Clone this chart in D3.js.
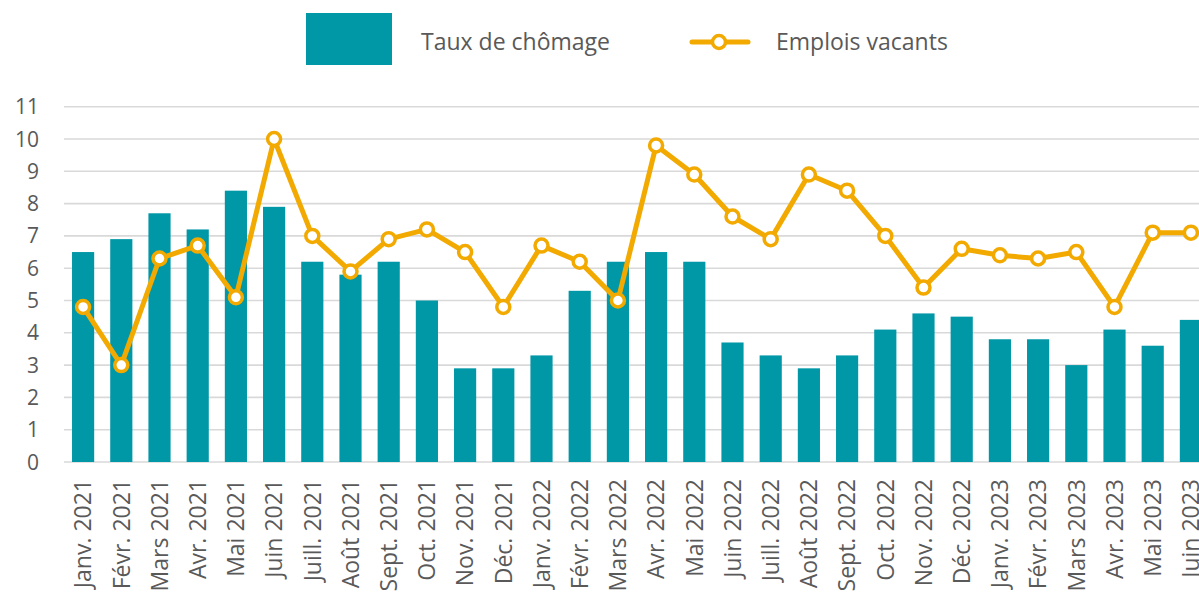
<!DOCTYPE html>
<html>
<head>
<meta charset="utf-8">
<script src="https://cdn.jsdelivr.net/npm/d3@7"></script>
<style>
  html, body { margin: 0; padding: 0; background: #fff; overflow: hidden; }
  svg { display: block; font-family: 'Open Sans', Lato, sans-serif; }
</style>
</head>
<body>
<div id="chart"></div>
<script>
const months = [
  'Janv. 2021', 'Févr. 2021', 'Mars 2021', 'Avr. 2021', 'Mai 2021', 'Juin 2021',
  'Juill. 2021', 'Août 2021', 'Sept. 2021', 'Oct. 2021', 'Nov. 2021', 'Déc. 2021',
  'Janv. 2022', 'Févr. 2022', 'Mars 2022', 'Avr. 2022', 'Mai 2022', 'Juin 2022',
  'Juill. 2022', 'Août 2022', 'Sept. 2022', 'Oct. 2022', 'Nov. 2022', 'Déc. 2022',
  'Janv. 2023', 'Févr. 2023', 'Mars 2023', 'Avr. 2023', 'Mai 2023', 'Juin 2023'
]
// taux de chômage (barres)
const chomage = [
  6.5, 6.9, 7.7, 7.2, 8.4, 7.9, 6.2, 5.8, 6.2, 5.0, 2.9, 2.9,
  3.3, 5.3, 6.2, 6.5, 6.2, 3.7, 3.3, 2.9, 3.3, 4.1, 4.6, 4.5,
  3.8, 3.8, 3.0, 4.1, 3.6, 4.4
]
// emplois vacants (ligne)
const vacants = [
  4.8, 3.0, 6.3, 6.7, 5.1, 10.0, 7.0, 5.9, 6.9, 7.2, 6.5, 4.8,
  6.7, 6.2, 5.0, 9.8, 8.9, 7.6, 6.9, 8.9, 8.4, 7.0, 5.4, 6.6,
  6.4, 6.3, 6.5, 4.8, 7.1, 7.1
]
const yTicks = d3.range(0, 12)

const width = 1199, height = 592
const teal = '#0097A7', orange = '#F2A900', grey = '#595959', gridCol = '#d9d9d9'

const svg = d3.select('#chart').append('svg').attr('width', width).attr('height', height)

// zone de tracé (déborde à droite comme l'original)
const x0 = 64, step = 38.2
const x = d3.scaleBand().domain(months).range([x0, x0 + step * months.length]).paddingInner(0.42).paddingOuter(0.21)
const y = d3.scaleLinear().domain([0, 11]).range([462, 106.7])

// grille
svg.append('g')
  .selectAll('line')
  .data(yTicks)
  .join('line')
  .attr('x1', x0).attr('x2', width + 20)
  .attr('y1', d => y(d)).attr('y2', d => y(d))
  .attr('stroke', gridCol).attr('stroke-width', 1.6)

// axe y
svg.append('g')
  .selectAll('text')
  .data(yTicks)
  .join('text')
  .attr('x', 39).attr('y', d => y(d))
  .attr('dy', '0.36em')
  .attr('text-anchor', 'end')
  .attr('fill', grey).style('font-size', '21px')
  .text(d => d)

// barres
svg.append('g')
  .selectAll('rect')
  .data(chomage)
  .join('rect')
  .attr('x', (d, i) => x(months[i]))
  .attr('width', x.bandwidth())
  .attr('y', d => y(d))
  .attr('height', d => y(0) - y(d))
  .attr('fill', teal)

// ligne
const cx = i => x(months[i]) + x.bandwidth() / 2
const line = d3.line().x((d, i) => cx(i)).y(d => y(d))
svg.append('path')
  .datum(vacants)
  .attr('d', line)
  .attr('fill', 'none')
  .attr('stroke', orange)
  .attr('stroke-width', 5)
  .attr('stroke-linejoin', 'round')

svg.append('g')
  .selectAll('circle')
  .data(vacants)
  .join('circle')
  .attr('cx', (d, i) => cx(i))
  .attr('cy', d => y(d))
  .attr('r', 6.5)
  .attr('fill', '#fff')
  .attr('stroke', orange)
  .attr('stroke-width', 3.5)

// étiquettes x
svg.append('g')
  .selectAll('text')
  .data(months)
  .join('text')
  .attr('transform', d => `translate(${x(d) + x.bandwidth() / 2},479) rotate(-90)`)
  .attr('dy', '0.36em')
  .attr('text-anchor', 'end')
  .attr('fill', grey).style('font-size', '23px')
  .text(d => d)

// légende
const leg = svg.append('g')
leg.append('rect').attr('x', 306).attr('y', 13).attr('width', 86).attr('height', 52).attr('fill', teal)
leg.append('text').attr('x', 421).attr('y', 50).attr('fill', grey).style('font-size', '23px').text('Taux de chômage')
leg.append('line').attr('x1', 692).attr('x2', 748).attr('y1', 42).attr('y2', 42)
  .attr('stroke', orange).attr('stroke-width', 5).attr('stroke-linecap', 'round')
leg.append('circle').attr('cx', 719).attr('cy', 42).attr('r', 6.5)
  .attr('fill', '#fff').attr('stroke', orange).attr('stroke-width', 3.5)
leg.append('text').attr('x', 776).attr('y', 50).attr('fill', grey).style('font-size', '23px').text('Emplois vacants')
</script>
</body>
</html>
